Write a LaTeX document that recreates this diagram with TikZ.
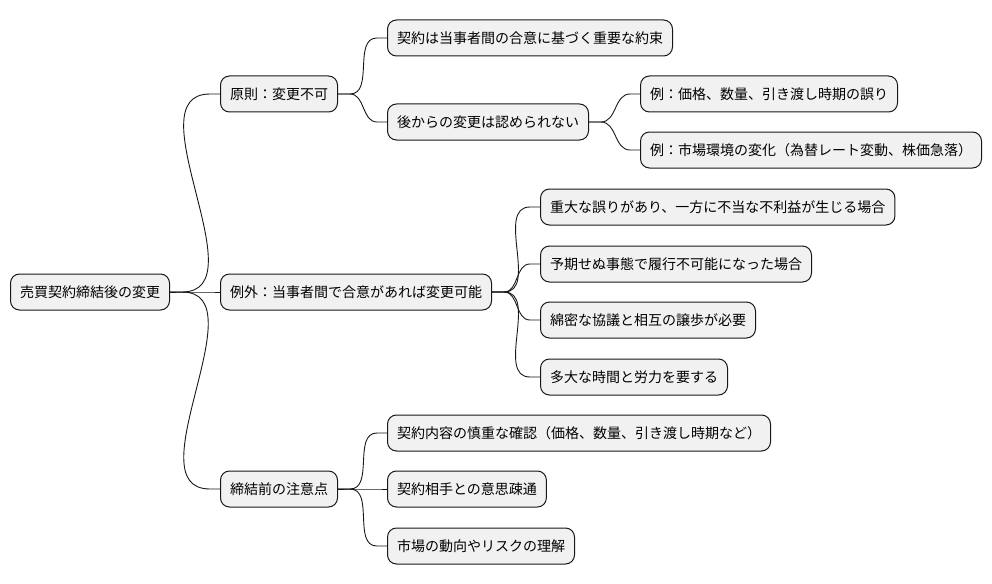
\documentclass[tikz,border=0pt]{standalone}
\usepackage{fontspec}
\setmainfont{Noto Sans CJK JP}
\definecolor{boxfill}{HTML}{F1F1F1}
\definecolor{boxline}{HTML}{181818}
\tikzset{
  mmbox/.style={draw=boxline, fill=boxfill, rounded corners=9pt, minimum height=36pt,
    inner xsep=9.5pt, inner ysep=0pt, anchor=west, line width=1pt,
    font=\fontsize{14pt}{16pt}\selectfont},
  mmedge/.style={draw=boxline, line width=0.9pt}
}
\newcommand\mmlink[2]{\draw[mmedge] (#1.east) -- ++(12,0) to[out=0,in=180] ([xshift=-10pt]#2.west) -- (#2.west);}
\begin{document}
\begin{tikzpicture}[x=1pt,y=-1pt]
\useasboundingbox (0,0) rectangle (992,583);
\node[mmbox] (r) at (10,292) {売買契約締結後の変更};
\node[mmbox] (a) at (220,94) {原則：変更不可};
\node[mmbox] (b) at (220,292) {例外：当事者間で合意があれば変更可能};
\node[mmbox] (c) at (220,489) {締結前の注意点};
\node[mmbox] (a1) at (387,38) {契約は当事者間の合意に基づく重要な約束};
\node[mmbox] (a2) at (387,122) {後からの変更は認められない};
\node[mmbox] (a21) at (640,94) {例：価格、数量、引き渡し時期の誤り};
\node[mmbox] (a22) at (640,150) {例：市場環境の変化（為替レート変動、株価急落）};
\node[mmbox] (b1) at (540,207) {重大な誤りがあり、一方に不当な不利益が生じる場合};
\node[mmbox] (b2) at (540,264) {予期せぬ事態で履行不可能になった場合};
\node[mmbox] (b3) at (540,320) {綿密な協議と相互の譲歩が必要};
\node[mmbox] (b4) at (540,377) {多大な時間と労力を要する};
\node[mmbox] (c1) at (387,433) {契約内容の慎重な確認（価格、数量、引き渡し時期など）};
\node[mmbox] (c2) at (387,489) {契約相手との意思疎通};
\node[mmbox] (c3) at (387,546) {市場の動向やリスクの理解};
\mmlink{r}{a}\mmlink{r}{b}\mmlink{r}{c}
\mmlink{a}{a1}\mmlink{a}{a2}
\mmlink{a2}{a21}\mmlink{a2}{a22}
\mmlink{b}{b1}\mmlink{b}{b2}\mmlink{b}{b3}\mmlink{b}{b4}
\mmlink{c}{c1}\mmlink{c}{c2}\mmlink{c}{c3}
\end{tikzpicture}
\end{document}
